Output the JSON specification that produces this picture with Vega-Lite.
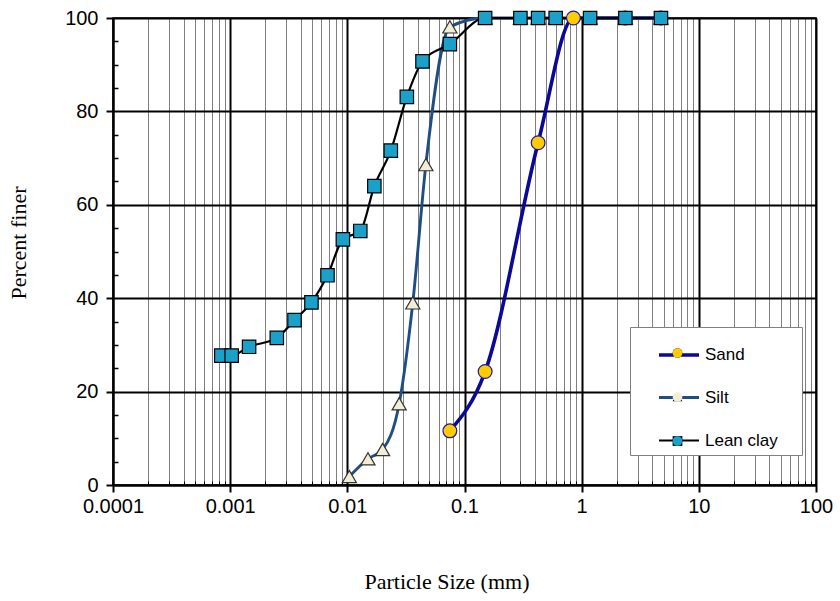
{
  "$schema": "https://vega.github.io/schema/vega-lite/v6.json",
  "width": 703,
  "height": 467,
  "autosize": {"type": "none"},
  "padding": {"left": 113, "top": 18, "right": 24, "bottom": 116},
  "background": "white",
  "config": {"view": {"stroke": "#000000", "strokeWidth": 1.5}, "font": "Liberation Sans"},
  "data": {"values": [
    {"soil": "Sand", "size": 0.075, "finer": 11.6},
    {"soil": "Sand", "size": 0.15, "finer": 24.3},
    {"soil": "Sand", "size": 0.425, "finer": 73.3},
    {"soil": "Sand", "size": 0.85, "finer": 100},
    {"soil": "Sand", "size": 2.36, "finer": 100},
    {"soil": "Sand", "size": 4.75, "finer": 100},
    {"soil": "Silt", "size": 0.0104, "finer": 1.8},
    {"soil": "Silt", "size": 0.015, "finer": 5.6},
    {"soil": "Silt", "size": 0.02, "finer": 7.6},
    {"soil": "Silt", "size": 0.0277, "finer": 17.4},
    {"soil": "Silt", "size": 0.0362, "finer": 39},
    {"soil": "Silt", "size": 0.0468, "finer": 68.6},
    {"soil": "Silt", "size": 0.075, "finer": 98.1},
    {"soil": "Silt", "size": 0.15, "finer": 100},
    {"soil": "Silt", "size": 0.3, "finer": 100},
    {"soil": "Silt", "size": 0.425, "finer": 100},
    {"soil": "Silt", "size": 0.6, "finer": 100},
    {"soil": "Silt", "size": 1.18, "finer": 100},
    {"soil": "Silt", "size": 2.36, "finer": 100},
    {"soil": "Silt", "size": 4.75, "finer": 100},
    {"soil": "Lean clay", "size": 0.00084, "finer": 27.7},
    {"soil": "Lean clay", "size": 0.00103, "finer": 27.7},
    {"soil": "Lean clay", "size": 0.00145, "finer": 29.6},
    {"soil": "Lean clay", "size": 0.0025, "finer": 31.5},
    {"soil": "Lean clay", "size": 0.00354, "finer": 35.3},
    {"soil": "Lean clay", "size": 0.00494, "finer": 39.1},
    {"soil": "Lean clay", "size": 0.00677, "finer": 44.9},
    {"soil": "Lean clay", "size": 0.00916, "finer": 52.6},
    {"soil": "Lean clay", "size": 0.0129, "finer": 54.4},
    {"soil": "Lean clay", "size": 0.017, "finer": 64},
    {"soil": "Lean clay", "size": 0.0235, "finer": 71.6},
    {"soil": "Lean clay", "size": 0.0322, "finer": 83.1},
    {"soil": "Lean clay", "size": 0.0438, "finer": 90.7},
    {"soil": "Lean clay", "size": 0.075, "finer": 94.4},
    {"soil": "Lean clay", "size": 0.15, "finer": 100},
    {"soil": "Lean clay", "size": 0.3, "finer": 100},
    {"soil": "Lean clay", "size": 0.425, "finer": 100},
    {"soil": "Lean clay", "size": 0.6, "finer": 100},
    {"soil": "Lean clay", "size": 1.18, "finer": 100},
    {"soil": "Lean clay", "size": 2.36, "finer": 100},
    {"soil": "Lean clay", "size": 4.75, "finer": 100}
  ]},
  "encoding": {
    "x": {
      "field": "size", "type": "quantitative",
      "scale": {"type": "log", "domain": [0.0001, 100], "nice": false},
      "axis": {
        "values": [0.0001,0.0002,0.0003,0.0004,0.0005,0.0006,0.0007,0.0008,0.0009,0.001,0.002,0.003,0.004,0.005,0.006,0.007,0.008,0.009,0.01,0.02,0.03,0.04,0.05,0.06,0.07,0.08,0.09,0.1,0.2,0.3,0.4,0.5,0.6,0.7,0.8,0.9,1,2,3,4,5,6,7,8,9,10,20,30,40,50,60,70,80,90,100],
        "title": "Particle Size (mm)",
        "titleFont": "Liberation Serif", "titleFontSize": 22, "titleFontWeight": "normal", "titleColor": "#000000",
        "titleX": 333.5, "titleY": 103, "titleBaseline": "alphabetic", "titleAlign": "center",
        "labelExpr": "abs(log(datum.value)/LN10 - round(log(datum.value)/LN10)) < 0.001 ? toString(datum.value) : ''",
        "labelFont": "Liberation Sans", "labelFontSize": 20, "labelColor": "#000000",
        "labelPadding": 4, "labelFlush": false, "labelOverlap": false, "labelBound": false,
        "grid": true,
        "gridColor": {"condition": {"test": "abs(log(datum.value)/LN10 - round(log(datum.value)/LN10)) < 0.001", "value": "#000000"}, "value": "#808080"},
        "gridWidth": {"condition": {"test": "abs(log(datum.value)/LN10 - round(log(datum.value)/LN10)) < 0.001", "value": 2}, "value": 1},
        "domainColor": "#000000", "domainWidth": 2,
        "tickColor": "#000000",
        "tickWidth": {"condition": {"test": "abs(log(datum.value)/LN10 - round(log(datum.value)/LN10)) < 0.001", "value": 2}, "value": 1},
        "tickSize": {"condition": {"test": "abs(log(datum.value)/LN10 - round(log(datum.value)/LN10)) < 0.001", "value": 7}, "value": -4}
      }
    },
    "y": {
      "field": "finer", "type": "quantitative",
      "scale": {"domain": [0, 100], "nice": false},
      "axis": {
        "values": [0,5,10,15,20,25,30,35,40,45,50,55,60,65,70,75,80,85,90,95,100],
        "title": "Percent  finer",
        "titleFont": "Liberation Serif", "titleFontSize": 22, "titleFontWeight": "normal", "titleColor": "#000000",
        "titleAngle": 270, "titleX": -88, "titleY": 224.5, "titleBaseline": "alphabetic", "titleAlign": "center",
        "labelExpr": "datum.value % 20 === 0 ? datum.label : ''",
        "labelFont": "Liberation Sans", "labelFontSize": 20, "labelColor": "#000000",
        "labelPadding": 8, "labelFlush": false, "labelOverlap": false, "labelBound": false,
        "grid": true,
        "gridColor": "#000000", "gridWidth": 2,
        "gridOpacity": {"condition": {"test": "datum.value % 20 === 0", "value": 1}, "value": 0},
        "domainColor": "#000000", "domainWidth": 2,
        "tickColor": "#000000",
        "tickWidth": {"condition": {"test": "datum.value % 20 === 0", "value": 2}, "value": 1.5},
        "tickSize": {"condition": {"test": "datum.value % 20 === 0", "value": 7}, "value": -5}
      }
    }
  },
  "layer": [
    {
      "mark": {"type": "line", "interpolate": "monotone"},
      "encoding": {
        "color": {
          "field": "soil", "type": "nominal",
          "scale": {"domain": ["Sand", "Silt", "Lean clay"], "range": ["#0A0A96", "#1F4E85", "#000000"]},
          "legend": {
            "orient": "none", "legendX": 517, "legendY": 309,
            "title": "x", "titleOrient": "right", "titleOpacity": 0, "titleFontSize": 17, "titlePadding": 8,
            "symbolType": "stroke", "symbolSize": 1600, "symbolStrokeWidth": 3,
            "labelFont": "Liberation Sans", "labelFontSize": 17, "labelColor": "#000000",
            "labelOffset": 4, "symbolOffset": 21, "padding": 6, "rowPadding": 13,
            "fillColor": "#ffffff", "strokeColor": "#808080"
          }
        },
        "strokeWidth": {
          "field": "soil", "type": "ordinal",
          "scale": {"domain": ["Sand", "Silt", "Lean clay"], "range": [3.6, 2.2, 2.7]},
          "legend": null
        }
      }
    },
    {
      "mark": {"type": "point", "filled": true, "opacity": 1, "strokeWidth": 1.2},
      "encoding": {
        "fill": {
          "field": "soil", "type": "nominal", "sort": ["Sand", "Silt", "Lean clay"],
          "scale": {"range": ["#FFCC00", "#F3EDD5", "#1AA0C9"]},
          "legend": {
            "orient": "none", "legendX": 517, "legendY": 325.5, "title": null,
            "symbolSize": 95, "symbolStrokeWidth": 1.2, "labelExpr": "''", "labelFontSize": 17,
            "padding": 1, "rowPadding": 26, "symbolOffset": 38,
            "encode": {"symbols": {"update": {"stroke": {"scale": "stroke", "field": "value"}}}}
          }
        },
        "shape": {
          "field": "soil", "type": "nominal", "sort": ["Sand", "Silt", "Lean clay"],
          "scale": {"range": ["circle", "triangle-up", "square"]},
          "legend": {
            "orient": "none", "legendX": 517, "legendY": 325.5, "title": null,
            "symbolSize": 95, "symbolStrokeWidth": 1.2, "labelExpr": "''", "labelFontSize": 17,
            "padding": 1, "rowPadding": 26, "symbolOffset": 38
          }
        },
        "stroke": {
          "field": "soil", "type": "nominal",
          "scale": {"domain": ["Sand", "Silt", "Lean clay"], "range": ["#1A1AA0", "#333333", "#000000"]},
          "legend": null
        },
        "size": {
          "field": "soil", "type": "ordinal", "sort": "descending",
          "scale": {"range": [200, 180, 110]},
          "legend": null
        }
      }
    }
  ]
}
